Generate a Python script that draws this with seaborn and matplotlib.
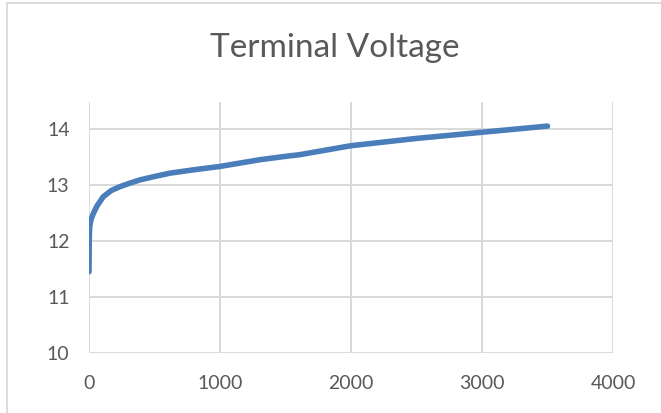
import numpy as np
import matplotlib
matplotlib.use('Agg')
import matplotlib.pyplot as plt
import seaborn as sns
from matplotlib.patches import Rectangle

# values
time_s = [0, 2, 5, 15, 33, 60, 109, 170, 237, 310, 389, 500, 618, 800, 1000,
          1305, 1500, 1610, 2000, 2500, 3000, 3500]
voltage = [11.45, 12.05, 12.25, 12.38, 12.49, 12.62, 12.79, 12.90, 12.97, 13.03,
           13.09, 13.15, 13.21, 13.27, 13.33, 13.45, 13.51, 13.54, 13.70, 13.83,
           13.94, 14.05]
x_ticks = [0, 1000, 2000, 3000, 4000]
y_ticks = [10, 11, 12, 13, 14]

sns.set_theme(style="white")
plt.rcParams['font.family'] = ['Lato', 'DejaVu Sans']

fig = plt.figure(figsize=(6.61, 4.13), dpi=100)
ax = fig.add_axes([89 / 661, 60 / 413, 524 / 661, 251 / 413])

sns.lineplot(x=time_s, y=voltage, ax=ax, color='#4a7ebb', linewidth=4,
             solid_capstyle='round')

ax.set_xlim(0, 4000)
ax.set_ylim(10, 14.48)
ax.set_xticks(x_ticks)
ax.set_yticks(y_ticks)
ax.grid(True, color='#d9d9d9', linewidth=1.4)
ax.set_axisbelow(True)
for s in ax.spines.values():
    s.set_visible(False)
ax.tick_params(axis='both', length=0, labelsize=14, colors='#595959')
ax.tick_params(axis='x', pad=16)
ax.tick_params(axis='y', pad=14)

fig.text(335 / 661, 1 - 48 / 413, "Terminal Voltage", ha='center', va='center',
         fontsize=24, color='#595959')

# chart area border (cropped on the right and bottom in the reference)
fig.patches.append(Rectangle((7 / 661, -0.1), 1.2, 1.1 - 3 / 413,
                             transform=fig.transFigure, fill=False,
                             edgecolor='#d9d9d9', linewidth=1.3))

fig.savefig('out.png', dpi=100)
